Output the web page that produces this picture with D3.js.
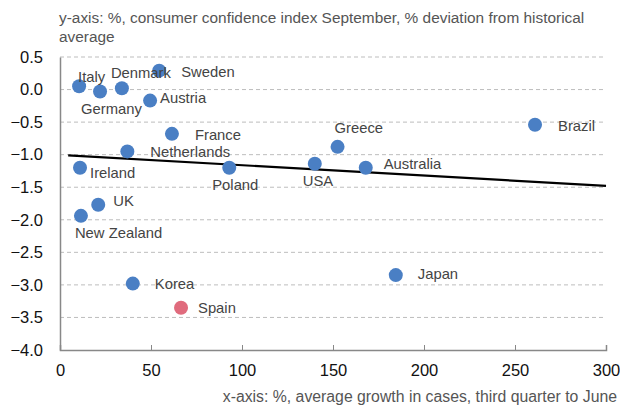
<!DOCTYPE html>
<html>
<head>
<meta charset="utf-8">
<script src="https://cdn.jsdelivr.net/npm/d3@7"></script>
<style>
  body { margin: 0; background: #fff; }
  svg { font-family: "Liberation Sans", Arial, sans-serif; }
</style>
</head>
<body>
<svg id="chart"></svg>
<script>
//--Data
var countries = ["Italy", "Germany", "Denmark", "Austria", "Sweden", "France", "Netherlands", "Ireland", "Poland",
  "USA", "Greece", "Australia", "Brazil", "UK", "New Zealand", "Korea", "Japan", "Spain"];
var growth = [10.5, 22, 34, 49.5, 54.5, 61.5, 37, 11, 93, 140, 152.5, 168, 261, 21, 11.5, 40, 184.5, 66.5];
var confidence = [0.05, -0.03, 0.02, -0.17, 0.29, -0.68, -0.95, -1.2, -1.2, -1.14, -0.88, -1.2, -0.54, -1.77, -1.94, -2.98, -2.85, -3.35];
var highlight = ["Spain"];
var trendX = [4.5, 300];
var trendY = [-1.01, -1.48];
var xTicks = [0, 50, 100, 150, 200, 250, 300];
var yTicks = [0.5, 0.0, -0.5, -1.0, -1.5, -2.0, -2.5, -3.0, -3.5, -4.0];

//label offsets (px) relative to each point
var labelOffset = {
  "Italy": [-1, -9], "Germany": [-19, 17], "Denmark": [-11, -15], "Austria": [10, -3], "Sweden": [22, 1],
  "France": [23, 1], "Netherlands": [23, 0], "Ireland": [10, 5], "Poland": [-17, 17], "USA": [-12, 17],
  "Greece": [-3, -19], "Australia": [18, -4], "Brazil": [23, 1], "UK": [15, -4], "New Zealand": [-6, 17],
  "Korea": [22, 0], "Japan": [22, -1], "Spain": [17, 0]
};

var canvas = { width: 620, height: 406, left: 60, right: 606, top: 57, bottom: 350 };
var x = d3.scaleLinear().domain([0, 300]).range([canvas.left, canvas.right]);
var y = d3.scaleLinear().domain([-4, 0.5]).range([canvas.bottom, canvas.top]);

var root = d3.select("#chart").attr("width", canvas.width).attr("height", canvas.height);

//Titles
root.append("text").attr("x", 59).attr("y", 23).attr("fill", "#555").style("font-size", "15.4px")
  .text("y-axis: %, consumer confidence index September, % deviation from historical");
root.append("text").attr("x", 59).attr("y", 42).attr("fill", "#555").style("font-size", "15.4px")
  .text("average");
root.append("text").attr("x", 617).attr("y", 402).attr("text-anchor", "end").attr("fill", "#555")
  .style("font-size", "15.8px").text("x-axis: %, average growth in cases, third quarter to June");

//Gridlines
root.append("g").selectAll("line").data(yTicks.filter(d => d > -4)).enter().append("line")
  .attr("x1", canvas.left).attr("x2", canvas.right)
  .attr("y1", d => y(d)).attr("y2", d => y(d))
  .attr("stroke", "#bdbdbd").attr("stroke-dasharray", "4,3").attr("stroke-width", 1);

//Axes
var yAxis = root.append("g").attr("transform", "translate(" + canvas.left + ",0)")
  .call(d3.axisLeft(y).tickValues(yTicks).tickSize(0).tickPadding(17).tickFormat(d3.format(".1f")));
yAxis.select(".domain").attr("stroke", "#888").attr("stroke-width", 1.5);
yAxis.selectAll("text").style("font-size", "16.5px").attr("fill", "#111").attr("font-family", "Liberation Sans, Arial, sans-serif");

var xAxis = root.append("g").attr("transform", "translate(0," + canvas.bottom + ")")
  .call(d3.axisBottom(x).tickValues(xTicks).tickSize(-5).tickPadding(14).tickFormat(d3.format("d")));
xAxis.select(".domain").attr("stroke", "#888").attr("stroke-width", 1.5);
xAxis.selectAll(".tick line").attr("stroke", "#888");
xAxis.selectAll("text").style("font-size", "16.5px").attr("fill", "#111").attr("font-family", "Liberation Sans, Arial, sans-serif");

//Trend line
root.append("line")
  .attr("x1", x(trendX[0])).attr("y1", y(trendY[0]))
  .attr("x2", x(trendX[1])).attr("y2", y(trendY[1]))
  .attr("stroke", "#000").attr("stroke-width", 2.2);

//Points
var points = countries.map((c, i) => ({ name: c, gx: growth[i], cy: confidence[i] }));
root.append("g").selectAll("circle").data(points).enter().append("circle")
  .attr("cx", d => x(d.gx)).attr("cy", d => y(d.cy)).attr("r", 7)
  .attr("fill", d => highlight.includes(d.name) ? "#e06b7d" : "#4a7fc4");

//Labels
root.append("g").selectAll("text").data(points).enter().append("text")
  .attr("x", d => x(d.gx) + labelOffset[d.name][0])
  .attr("y", d => y(d.cy) + labelOffset[d.name][1])
  .attr("dy", "0.35em")
  .attr("fill", "#444").style("font-size", "14.8px")
  .text(d => d.name);
</script>
</body>
</html>
